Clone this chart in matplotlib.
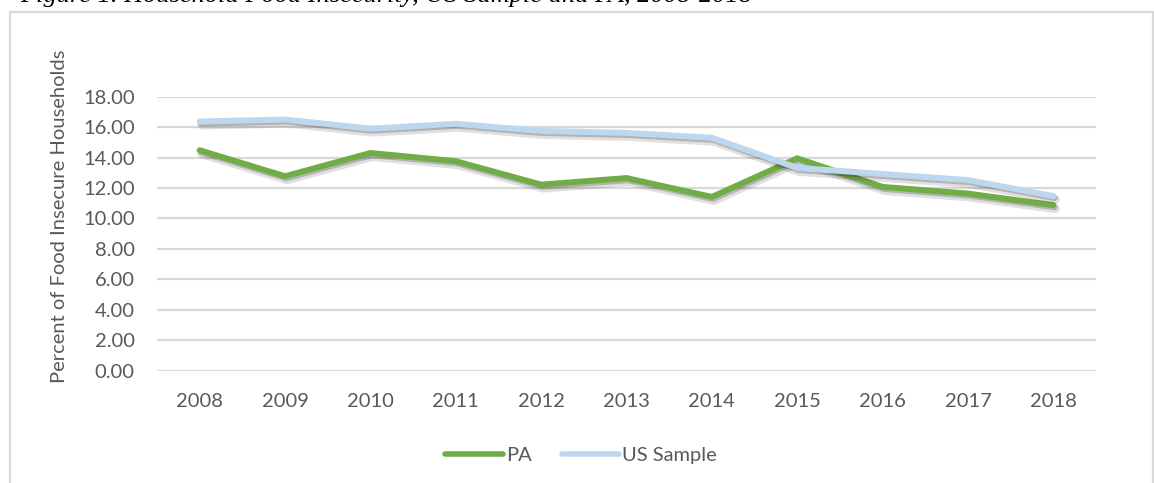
import matplotlib.pyplot as plt
import matplotlib.patheffects as pe
from matplotlib.patches import Rectangle
from matplotlib.lines import Line2D

# data
years = ['2008', '2009', '2010', '2011', '2012', '2013', '2014', '2015', '2016', '2017', '2018']
pa = [14.48, 12.77, 14.30, 13.76, 12.22, 12.65, 11.41, 13.95, 12.07, 11.63, 10.87]
us = [16.37, 16.50, 15.90, 16.22, 15.75, 15.62, 15.30, 13.32, 12.92, 12.52, 11.47]
yticks = [0, 2, 4, 6, 8, 10, 12, 14, 16, 18]

W, H = 1154, 483
fig = plt.figure(figsize=(W / 100, H / 100), dpi=100)
plt.rcParams['font.family'] = ['Lato', 'DejaVu Sans']
txt = '#595959'
green = '#70AD47'
blue = '#BDD7EE'

# chart frame and the caption above it (cut by the top edge, as in the original)
fig.patches.append(Rectangle((10 / W, 1 - 490 / H), 1143 / W, 478 / H,
                             transform=fig.transFigure, fill=False,
                             edgecolor='#d9d9d9', lw=1.6))
fig.text(20 / W, 1 - 2 / H, 'Figure 1. Household Food Insecurity, US Sample and PA, 2008-2018',
         family='Liberation Serif', style='italic', fontsize=19, color='black',
         ha='left', va='baseline')

ax = fig.add_axes([157 / W, 1 - 370.5 / H, (1096 - 157) / W, (370.5 - 96.7) / H])
x = range(len(years))
shadow = [pe.SimpleLineShadow(offset=(1.5, -2.5), shadow_color='black', alpha=0.12, linewidth=6.5),
          pe.SimpleLineShadow(offset=(1, -1.5), shadow_color='black', alpha=0.2), pe.Normal()]
ax.plot(x, pa, color=green, lw=4.3, solid_capstyle='round', solid_joinstyle='miter',
        path_effects=shadow, zorder=3)
ax.plot(x, us, color=blue, lw=4.3, solid_capstyle='round', solid_joinstyle='miter',
        path_effects=shadow, zorder=4)

ax.set_xlim(-0.5, len(years) - 0.5)
ax.set_ylim(0, 18)
ax.set_yticks(yticks)
ax.set_yticklabels([f'{v:.2f}' for v in yticks])
ax.set_xticks(list(x))
ax.set_xticklabels(years)
ax.grid(axis='y', color='#d9d9d9', lw=1.6)
ax.set_axisbelow(True)
for s in ax.spines.values():
    s.set_visible(False)
ax.tick_params(length=0, labelsize=14.5, labelcolor=txt)
ax.tick_params(axis='y', pad=16)
ax.tick_params(axis='x', pad=16)

fig.text(60 / W, 1 - 216 / H, 'Percent of Food Insecure Households', rotation=90,
         fontsize=14.5, color=txt, ha='center', va='center')

handles = [Line2D([], [], color=green, lw=4, solid_capstyle='round'),
           Line2D([], [], color=blue, lw=4, solid_capstyle='round')]
fig.legend(handles, ['PA', 'US Sample'], loc='center', bbox_to_anchor=(581 / W, 1 - 455 / H),
           ncol=2, frameon=False, fontsize=14.5, labelcolor=txt, handlelength=2.85,
           handletextpad=0.15, columnspacing=1.5)

fig.savefig('out.png', dpi=100)
